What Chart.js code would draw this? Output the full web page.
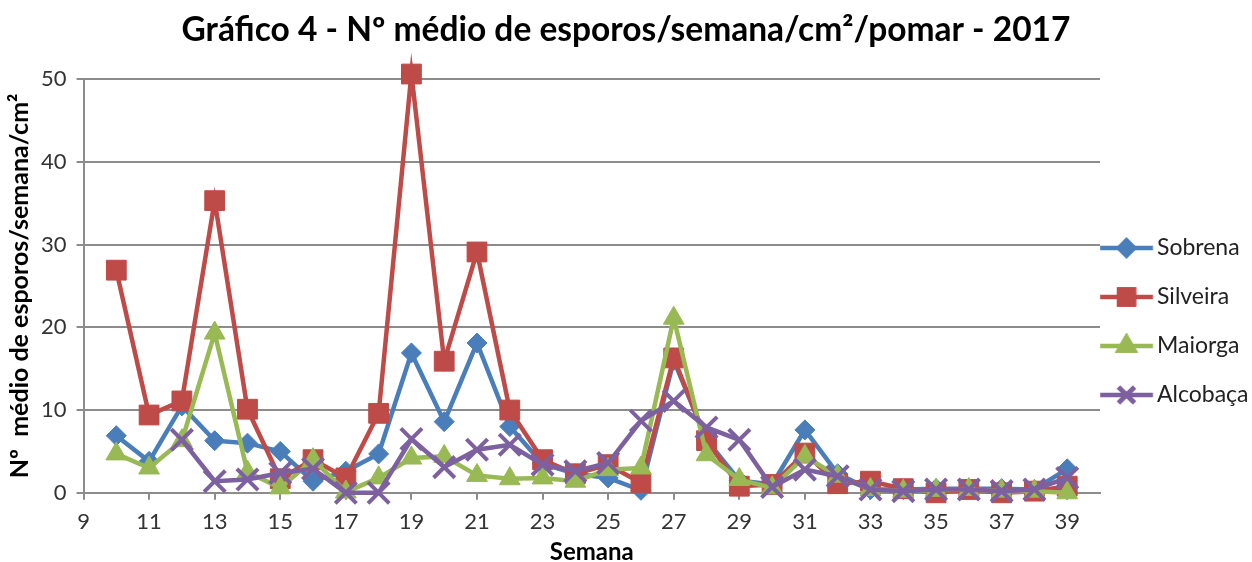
<!DOCTYPE html>
<html>
<head>
<meta charset="utf-8">
<script src="https://cdn.jsdelivr.net/npm/chart.js@4.4.0/dist/chart.umd.min.js"></script>
<style>
    html, body { margin: 0; padding: 0; background: #fff; }
    #box { width: 1252px; height: 562px; }
</style>
</head>
<body>
<div id="box"><canvas id="myChart"></canvas></div>
<script>
// data
const weeks = [10, 11, 12, 13, 14, 15, 16, 17, 18, 19, 20, 21, 22, 23, 24, 25, 26, 27, 28, 29, 30, 31, 32, 33, 34, 35, 36, 37, 38, 39]
const sobrena = [6.9, 3.8, 10.5, 6.3, 6.0, 5.0, 1.4, 2.6, 4.7, 16.9, 8.6, 18.1, 8.0, 3.5, 2.3, 1.8, 0.3, 16.0, 6.4, 1.5, 1.0, 7.6, 2.3, 0.4, 0.4, 0.5, 0.5, 0.5, 0.4, 2.9]
const silveira = [26.9, 9.4, 11.1, 35.3, 10.1, 1.7, 4.0, 1.8, 9.6, 50.6, 15.9, 29.1, 10.0, 4.0, 2.3, 3.4, 1.2, 16.3, 6.3, 0.8, 1.0, 4.8, 1.1, 1.4, 0.5, 0.0, 0.4, 0.0, 0.2, 0.8]
const maiorga = [4.7, 3.0, 6.3, 19.3, 2.5, 0.6, 4.0, 0.1, 1.8, 4.2, 4.4, 2.1, 1.7, 1.8, 1.4, 2.8, 3.0, 21.1, 4.6, 1.6, 0.6, 4.4, 2.0, 0.4, 0.2, 0.3, 0.4, 0.2, 0.2, 0.0]
const alcobaca = [null, null, 6.4, 1.4, 1.6, 2.4, 2.9, 0.0, 0.0, 6.5, 3.1, 5.2, 5.8, 3.4, 2.6, 3.6, 8.7, 11.1, 7.9, 6.4, 0.7, 2.8, 2.0, 0.4, 0.2, 0.4, 0.4, 0.2, 0.4, 1.8]

const seriesNames = ['Sobrena', 'Silveira', 'Maiorga', 'Alcobaça']
const seriesValues = [sobrena, silveira, maiorga, alcobaca]
const xTicks = [9, 11, 13, 15, 17, 19, 21, 23, 25, 27, 29, 31, 33, 35, 37, 39]
const yTicks = [0, 10, 20, 30, 40, 50]

const COLORS = ['#4a7ebb', '#be4b48', '#98b954', '#7d60a0']
const STYLES = [
    { pointStyle: 'rectRot', pointRadius: 10, pointBorderWidth: 1 },
    { pointStyle: 'rect', pointRadius: 14, pointBorderWidth: 1 },
    { pointStyle: 'triangle', pointRadius: 12, pointBorderWidth: 1 },
    { pointStyle: 'crossRot', pointRadius: 15, pointBorderWidth: 4 }
]
const FONT = "Lato, 'Open Sans', sans-serif"
const LEGEND_FONT = 23
const LEGEND_PAD = 26
const LEGEND_BOX = 19.5

function points(values) {
    return weeks.map((w, i) => ({ x: w, y: values[i] }))
}

// line + marker picture for the legend; it is drawn centred on the legend box,
// so the sample is shifted left to start right at the legend's left edge
function legendIcon(i) {
    let c = document.createElement('canvas')
    c.width = 80
    c.height = 26
    let ctx = c.getContext('2d')
    let start = 40 - (LEGEND_PAD + LEGEND_BOX / 2)
    ctx.strokeStyle = COLORS[i]
    ctx.fillStyle = COLORS[i]
    ctx.lineWidth = 4.5
    ctx.beginPath()
    ctx.moveTo(start, 13)
    ctx.lineTo(start + 53, 13)
    ctx.stroke()
    Chart.helpers.drawPoint(ctx, {
        pointStyle: STYLES[i].pointStyle,
        radius: STYLES[i].pointRadius * 0.75,
        borderWidth: STYLES[i].pointBorderWidth,
        rotation: 0
    }, start + 26.5, 13)
    ctx.fill()
    ctx.stroke()
    return c
}

function chart() {
    const datasets = seriesNames.map((name, i) => ({
        label: name,
        data: points(seriesValues[i]),
        borderColor: COLORS[i],
        backgroundColor: COLORS[i],
        borderWidth: 4.5,
        pointStyle: STYLES[i].pointStyle,
        pointRadius: STYLES[i].pointRadius,
        pointBorderWidth: STYLES[i].pointBorderWidth,
        pointBackgroundColor: COLORS[i],
        pointBorderColor: COLORS[i],
        tension: 0,
        clip: false,
        order: seriesNames.length - i   // later series on top, like the original
    }))

    const config = {
        type: 'line',
        data: { datasets: datasets },
        options: {
            responsive: true,
            maintainAspectRatio: false,
            animation: false,
            layout: { padding: { left: 2, right: 2, top: 0, bottom: -5 } },
            plugins: {
                legend: {
                    position: 'right',
                    maxWidth: 150,
                    title: { display: true, text: '', font: { size: 10 }, padding: { top: 64, bottom: 0 } },
                    labels: {
                        usePointStyle: true,
                        pointStyleWidth: LEGEND_BOX,
                        padding: LEGEND_PAD,
                        color: '#222',
                        font: { family: FONT, size: LEGEND_FONT },
                        generateLabels: function (ch) {
                            return ch.data.datasets.map((d, i) => ({
                                text: d.label,
                                pointStyle: legendIcon(i),
                                fillStyle: COLORS[i],
                                strokeStyle: COLORS[i],
                                lineWidth: 0,
                                datasetIndex: i,
                                fontColor: '#222'
                            }))
                        }
                    }
                },
                title: {
                    display: true,
                    text: 'Gráfico 4 - Nº médio de esporos/semana/cm²/pomar - 2017',
                    color: '#000',
                    font: { family: FONT, size: 33.5, weight: 'bold' },
                    padding: { top: 10, bottom: 28.8 }
                },
                tooltip: { enabled: false }
            },
            scales: {
                x: {
                    type: 'linear',
                    min: 9,
                    max: 40,
                    afterBuildTicks: axis => { axis.ticks = xTicks.map(v => ({ value: v })) },
                    grid: { drawOnChartArea: false, drawTicks: true, tickLength: 7, color: '#8c8c8c', lineWidth: 2 },
                    border: { color: '#8c8c8c', width: 2 },
                    ticks: { color: '#333', font: { family: FONT, size: 22 }, padding: 9, maxRotation: 0 },
                    title: {
                        display: true,
                        text: 'Semana',
                        color: '#000',
                        font: { family: FONT, size: 24, weight: 'bold' },
                        padding: { top: -6, bottom: 0 }
                    }
                },
                y: {
                    min: 0,
                    max: 50,
                    afterBuildTicks: axis => { axis.ticks = yTicks.map(v => ({ value: v })) },
                    grid: { color: '#8c8c8c', lineWidth: 2, tickLength: 7 },
                    border: { color: '#8c8c8c', width: 2 },
                    ticks: { color: '#333', font: { family: FONT, size: 22 }, padding: 10 },
                    title: {
                        display: true,
                        text: 'Nº  médio de esporos/semana/cm²',
                        color: '#000',
                        font: { family: FONT, size: 25, weight: 'bold' },
                        padding: { top: 3, bottom: -4 }
                    }
                }
            }
        }
    }

    new Chart(document.getElementById('myChart'), config)
}
chart()
</script>
</body>
</html>
